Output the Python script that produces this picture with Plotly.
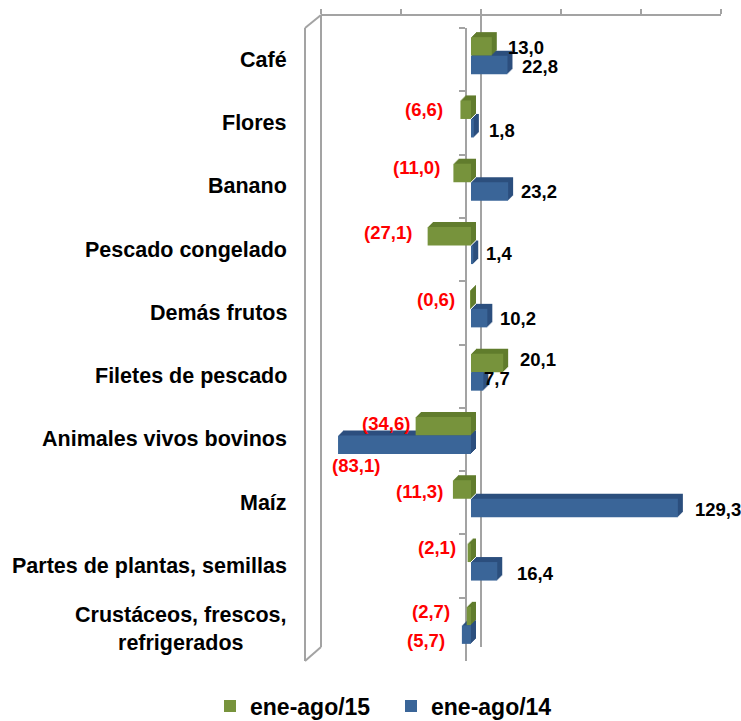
import plotly.graph_objects as go

# ---- data ---------------------------------------------------------------
categories = [
    "Café",
    "Flores",
    "Banano",
    "Pescado congelado",
    "Demás frutos",
    "Filetes de pescado",
    "Animales vivos bovinos",
    "Maíz",
    "Partes de plantas, semillas",
    "Crustáceos, frescos,<br>refrigerados",
]
ene_ago_15 = [13.0, -6.6, -11.0, -27.1, -0.6, 20.1, -34.6, -11.3, -2.1, -2.7]
ene_ago_14 = [22.8, 1.8, 23.2, 1.4, 10.2, 7.7, -83.1, 129.3, 16.4, -5.7]
series_names = ["ene-ago/15", "ene-ago/14"]
value_ticks = [-100, -50, 0, 50, 100, 150]

# ---- styling --------------------------------------------------------------
W, H = 741, 721
FONT = "Liberation Sans, Arial, sans-serif"
GREEN, GREEN_DEPTH = "#77933c", "#617c2d"
BLUE, BLUE_DEPTH = "#3a6598", "#2c4f7e"
WALL = "#a3a3a3"
VALUE_RANGE = [-100, 150]
DEPTH = 5          # pixel depth of each bar (drawn as stacked shifted layers)

# label nudges in pixels (dx from bar end, dy downward from bar centre)
offsets_15 = [(14, 1), (-15, 0), (-11, -5), (-14, -4), (-13, 0),
              (15, -3), (-4, -3), (-8, 2), (-10, -5), (-15, -5)]
offsets_14 = [(13, 2), (13, 2), (11, 0), (11, -1), (11, 0),
              (-1, -3), (44, 21), (15, 1), (18, 2), (-15, 6)]


def fx(px):
    return px / W


def fy(py):
    return 1 - py / H


def fmt(v):
    s = f"{abs(v):.1f}".replace(".", ",")
    return f"({s})" if v < 0 else s


fig = go.Figure()

cat_axis = dict(type="category", categoryarray=categories, range=[9.5, -0.5],
                showgrid=False, zeroline=False)
val_axis = dict(range=VALUE_RANGE, showgrid=False, zeroline=False, visible=False)
layout_axes = {}

# frame subplot (x / y): back-wall value axis and front category axis
fig.add_trace(go.Scatter(
    x=[0] * len(categories), y=categories, mode="markers",
    marker=dict(opacity=0), showlegend=False, hoverinfo="skip",
    xaxis="x", yaxis="y",
))

# bars: shifted layers from the back face forward, front face last
FRONT_X0, FRONT_Y0 = 311, 24          # pixel origin of the front-face plot area
n_layers = DEPTH + 1
for k in range(n_layers):
    shift = DEPTH - k                 # pixels toward the back (right / up)
    idx = k + 2
    xa, ya = f"x{idx}", f"y{idx}"
    front = shift == 0
    x0 = FRONT_X0 + shift
    y0 = FRONT_Y0 - shift
    layout_axes[f"xaxis{idx}"] = dict(domain=[fx(x0), fx(x0 + 400)], anchor=ya, **val_axis)
    layout_axes[f"yaxis{idx}"] = dict(domain=[fy(y0 + 633), fy(y0)], anchor=xa,
                                      visible=False, **cat_axis)
    for vals, col, dcol, name in ((ene_ago_15, GREEN, GREEN_DEPTH, series_names[0]),
                                  (ene_ago_14, BLUE, BLUE_DEPTH, series_names[1])):
        fig.add_trace(go.Bar(
            x=vals, y=categories, orientation="h", name=name,
            marker=dict(color=col if front else dcol, line_width=0),
            showlegend=front, hoverinfo="x+y" if front else "skip",
            xaxis=xa, yaxis=ya,
        ))
front_x, front_y = f"x{n_layers + 1}", f"y{n_layers + 1}"

fig.update_layout(
    width=W, height=H,
    margin=dict(l=0, r=0, t=0, b=0, autoexpand=False),
    paper_bgcolor="white", plot_bgcolor="rgba(0,0,0,0)",
    barmode="group", bargap=0.415, bargroupgap=0,
    font=dict(family=FONT, color="black"),
    xaxis=dict(domain=[fx(321), fx(721)], range=VALUE_RANGE, side="top",
               anchor="free", position=fy(15), showline=True, linecolor=WALL,
               linewidth=2, ticks="outside", ticklen=5, tickwidth=1.5,
               tickcolor=WALL, tickvals=value_ticks, showticklabels=False,
               showgrid=False, zeroline=False),
    yaxis=dict(domain=[fy(661), fy(28)], anchor="free", position=fx(466),
               showline=True, linecolor=WALL, linewidth=2, ticks="outside",
               ticklen=6, tickwidth=1.5, tickcolor=WALL, tickson="boundaries",
               showticklabels=False, **cat_axis),
    legend=dict(orientation="h", x=fx(210), xanchor="left", y=fy(706),
                yanchor="middle", font=dict(size=23, weight=700, family=FONT),
                entrywidth=136, itemwidth=30, tracegroupgap=0),
    **layout_axes,
)

# walls: back zero line and the left side panel
line = dict(color=WALL, width=2)
fig.add_shape(type="line", xref="x", yref="paper", x0=0, x1=0,
              y0=fy(15), y1=fy(647), line=line, layer="below")
for (x0, y0, x1, y1) in ((321, 15, 321, 647), (305, 28, 305, 661),
                         (305, 28, 321, 15), (305, 661, 321, 647)):
    fig.add_shape(type="line", xref="paper", yref="paper",
                  x0=fx(x0), y0=fy(y0), x1=fx(x1), y1=fy(y1),
                  line=line, layer="below")

# category labels
for cat in categories:
    fig.add_annotation(xref="paper", yref="y", x=fx(289), y=cat, text=f"<b>{cat}</b>",
                       xanchor="right", yanchor="middle", align="center",
                       showarrow=False, font=dict(size=21.5, family=FONT))

# value labels
half_bar = 0.585 * 633 / len(categories) / 4
for vals, offs, side in ((ene_ago_15, offsets_15, -1), (ene_ago_14, offsets_14, 1)):
    for cat, v, (dx, dy) in zip(categories, vals, offs):
        fig.add_annotation(
            xref=front_x, yref=front_y, x=v, y=cat, text=f"<b>{fmt(v)}</b>",
            xanchor="left" if v >= 0 else "right", yanchor="middle",
            xshift=dx, yshift=-(dy + side * half_bar), showarrow=False,
            font=dict(size=18.5, family=FONT, color="black" if v >= 0 else "#ff0000"),
        )

fig.write_html("out.html")
